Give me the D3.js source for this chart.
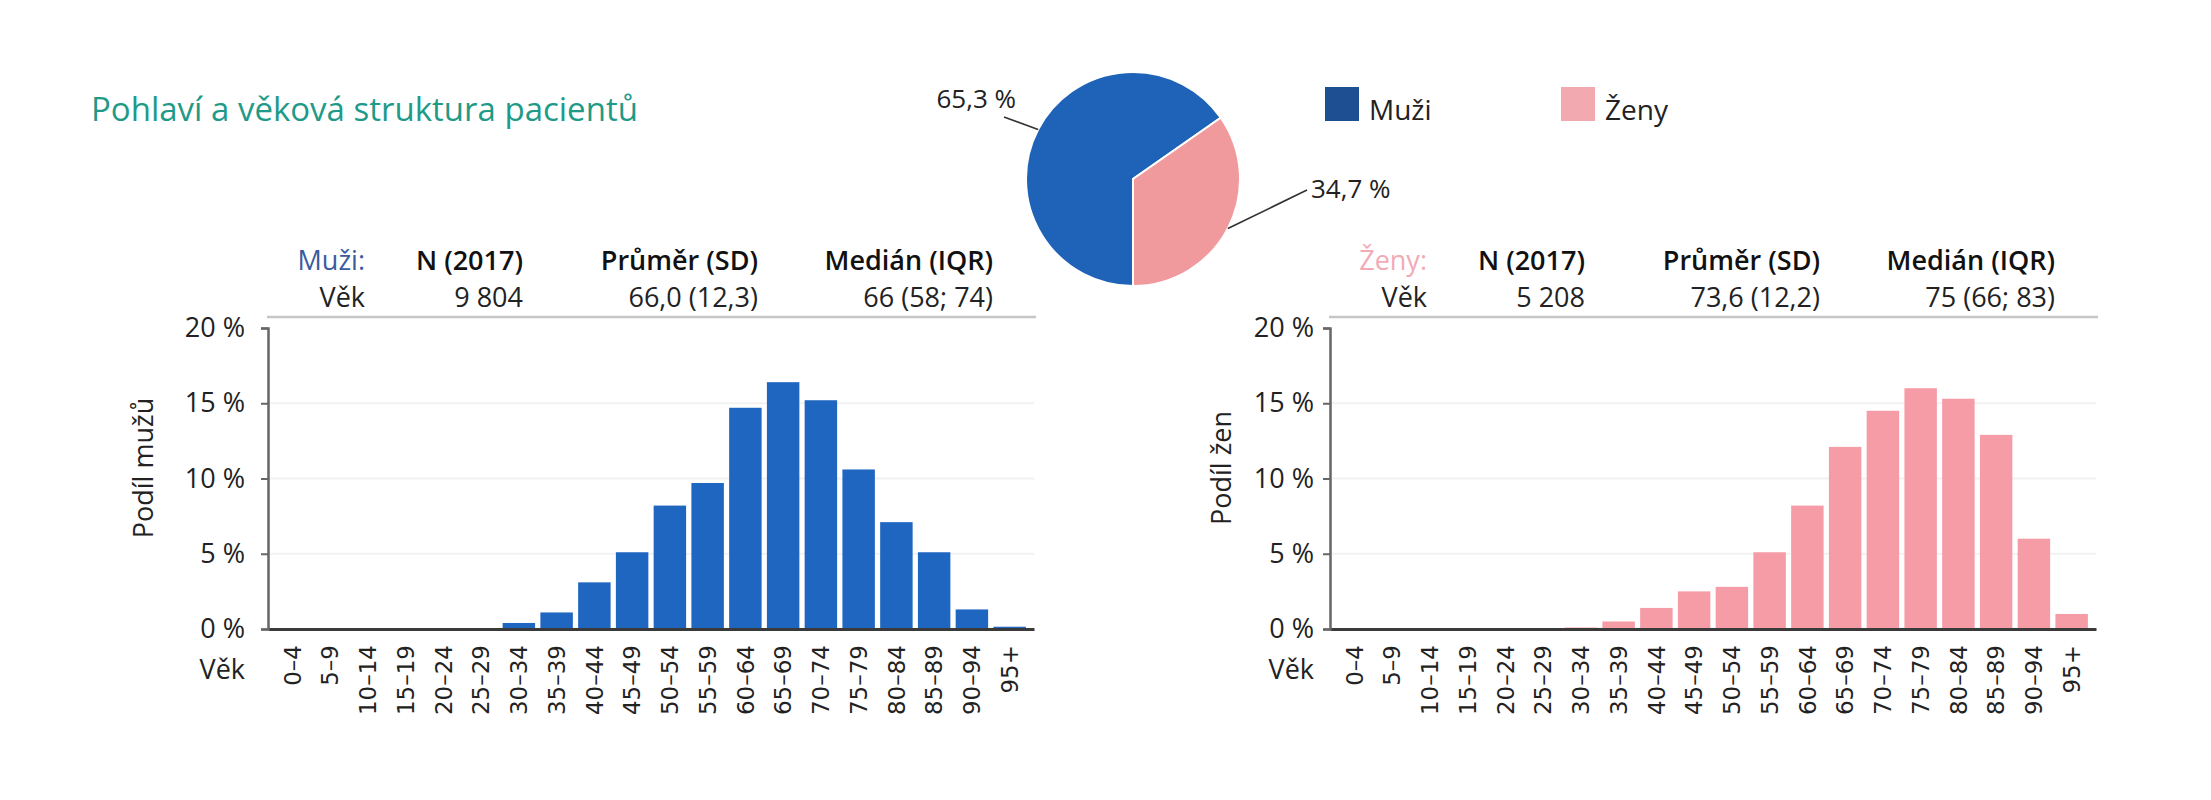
<!DOCTYPE html>
<html lang="cs">
<head>
<meta charset="UTF-8"/>
<title>Pohlaví a věková struktura pacientů</title>
<style>
  body { margin: 0; background: #ffffff; font-family: "Open Sans", sans-serif; }
  svg { display: block; }
  .tick text { fill: #222; }
</style>
</head>
<body>
<svg width="2211" height="800"></svg>
<script src="https://d3js.org/d3.v7.min.js"></script>
<script>
const ageGroups = ["0–4", "5–9", "10–14", "15–19", "20–24", "25–29", "30–34", "35–39", "40–44", "45–49",
  "50–54", "55–59", "60–64", "65–69", "70–74", "75–79", "80–84", "85–89", "90–94", "95+"];
const menShare = [0, 0, 0, 0, 0, 0, 0.4, 1.1, 3.1, 5.1, 8.2, 9.7, 14.7, 16.4, 15.2, 10.6, 7.1, 5.1, 1.3, 0.15];
const womenShare = [0, 0, 0, 0, 0, 0, 0.1, 0.5, 1.4, 2.5, 2.8, 5.1, 8.2, 12.1, 14.5, 16.0, 15.3, 12.9, 6.0, 1.0];
const yTicks = [0, 5, 10, 15, 20];

const sexLabels = ["Muži", "Ženy"];
const sexShare = [65.3, 34.7];

const statHeaders = ["N (2017)", "Průměr (SD)", "Medián (IQR)"];
const menStats = ["9 804", "66,0 (12,3)", "66 (58; 74)"];
const womenStats = ["5 208", "73,6 (12,2)", "75 (66; 83)"];

const svg = d3.select("svg");

// Title
svg.append("text")
  .attr("x", 91)
  .attr("y", 121)
  .attr("fill", "#1f9a88")
  .style("font-size", "33px")
  .style("font-weight", 500)
  .text("Pohlaví a věková struktura pacientů");

const yScale = d3.scaleLinear().domain([0, 20]).range([629, 328]);
const statCols = [158, 393, 628];

function drawPanel(cfg) {
  const g = svg.append("g");

  // header rule
  g.append("line")
    .attr("x1", cfg.x0 - 1).attr("x2", cfg.x1 + 2)
    .attr("y1", 317).attr("y2", 317)
    .attr("stroke", "#c6c6c6").attr("stroke-width", 2.5);

  // stats block
  const sx = cfg.x0 + 97;
  g.append("text").attr("x", sx).attr("y", 270).attr("text-anchor", "end")
    .attr("fill", cfg.nameColor).style("font-size", "27px").text(cfg.name);
  g.append("text").attr("x", sx).attr("y", 307).attr("text-anchor", "end")
    .attr("fill", "#222").style("font-size", "27px").text("Věk");
  statHeaders.forEach((h, i) => {
    g.append("text").attr("x", sx + statCols[i]).attr("y", 270).attr("text-anchor", "end")
      .attr("fill", "#111").style("font-size", "27px").style("font-weight", 600).text(h);
    g.append("text").attr("x", sx + statCols[i]).attr("y", 307).attr("text-anchor", "end")
      .attr("fill", "#222").style("font-size", "27px").text(cfg.stats[i]);
  });

  // grid
  g.selectAll(".grid")
    .data(yTicks.slice(1, -1))
    .enter().append("line")
    .attr("x1", cfg.x0).attr("x2", cfg.x1)
    .attr("y1", d => yScale(d)).attr("y2", d => yScale(d))
    .attr("stroke", "#f2f2f2").attr("stroke-width", 2);

  const xScale = d3.scaleBand()
    .domain(ageGroups)
    .range([cfg.x0, cfg.x1])
    .paddingInner(0.14)
    .paddingOuter(0.215);

  // bars
  g.selectAll(".bar")
    .data(cfg.values)
    .enter().append("rect")
    .attr("x", (d, i) => xScale(ageGroups[i]))
    .attr("y", d => yScale(d))
    .attr("width", xScale.bandwidth())
    .attr("height", d => yScale(0) - yScale(d))
    .attr("fill", cfg.color);

  // X axis
  const xAxis = g.append("g")
    .attr("transform", `translate(0, ${yScale(0)})`)
    .call(d3.axisBottom(xScale).tickSize(0).tickSizeOuter(0));
  xAxis.select(".domain").attr("stroke", "#3a3a3a").attr("stroke-width", 3);
  xAxis.selectAll("text")
    .attr("transform", "rotate(-90)")
    .attr("x", -16)
    .attr("y", 0)
    .attr("dy", "0.36em")
    .attr("text-anchor", "end")
    .style("font-family", "DejaVu Sans")
    .style("font-size", "23px");

  // Y axis
  const yAxis = g.append("g")
    .attr("transform", `translate(${cfg.x0}, 0)`)
    .call(d3.axisLeft(yScale).tickValues(yTicks).tickFormat(d => d + " %").tickSize(7).tickPadding(cfg.gap - 7));
  yAxis.select(".domain").attr("stroke", "#666").attr("stroke-width", 2.5);
  yAxis.selectAll(".tick line").attr("stroke", "#666").attr("stroke-width", 2);
  yAxis.selectAll("text")
    .style("font-family", "Open Sans")
    .style("font-size", "27px");

  // axis labels
  g.append("text")
    .attr("x", cfg.x0 - cfg.gap)
    .attr("y", 679)
    .attr("text-anchor", "end")
    .attr("fill", "#222")
    .style("font-size", "27px")
    .text("Věk");

  g.append("text")
    .attr("transform", `translate(${cfg.x0 - cfg.titleOff}, 468) rotate(-90)`)
    .attr("text-anchor", "middle")
    .attr("fill", "#222")
    .style("font-size", "27px")
    .text(cfg.yTitle);
}

drawPanel({
  x0: 268, x1: 1034, values: menShare, color: "#1f66c1",
  name: "Muži:", nameColor: "#3a5b9e", stats: menStats,
  yTitle: "Podíl mužů", gap: 23, titleOff: 115
});

drawPanel({
  x0: 1330, x1: 2096, values: womenShare, color: "#f59ca7",
  name: "Ženy:", nameColor: "#f2aab6", stats: womenStats,
  yTitle: "Podíl žen", gap: 16, titleOff: 99
});

// Pie
const pieColors = ["#1f63b8", "#f19a9e"];
const legendColors = ["#1e4f92", "#f3a9b0"];
const cx = 1133, cy = 179, r = 107;

const pie = d3.pie().sort(null).startAngle(Math.PI).endAngle(3 * Math.PI);
const arcs = pie(sexShare);
const arc = d3.arc().innerRadius(0).outerRadius(r);
const rim = d3.arc().innerRadius(r).outerRadius(r);

svg.append("g")
  .attr("transform", `translate(${cx}, ${cy})`)
  .selectAll("path")
  .data(arcs)
  .enter().append("path")
  .attr("d", arc)
  .attr("fill", (d, i) => pieColors[i])
  .attr("stroke", "#ffffff")
  .attr("stroke-width", 2);

const pieLabelPos = [
  { x: 1016, y: 108, anchor: "end", lx: 1004, ly: 117 },
  { x: 1311, y: 198, anchor: "start", lx: 1307, ly: 190 }
];

arcs.forEach((d, i) => {
  const p = rim.centroid(d);
  const lp = pieLabelPos[i];
  svg.append("line")
    .attr("x1", cx + p[0]).attr("y1", cy + p[1])
    .attr("x2", lp.lx).attr("y2", lp.ly)
    .attr("stroke", "#333").attr("stroke-width", 1.6);
  svg.append("text")
    .attr("x", lp.x).attr("y", lp.y)
    .attr("text-anchor", lp.anchor)
    .attr("fill", "#222")
    .style("font-size", "26px")
    .text(sexShare[i].toFixed(1).replace(".", ",") + " %");
});

// Legend
const legendX = [1325, 1561];
sexLabels.forEach((name, i) => {
  svg.append("rect")
    .attr("x", legendX[i]).attr("y", 87)
    .attr("width", 34).attr("height", 34)
    .attr("fill", legendColors[i]);
  svg.append("text")
    .attr("x", legendX[i] + 44).attr("y", 120)
    .attr("fill", "#222")
    .style("font-size", "28px")
    .text(name);
});
</script>
</body>
</html>
